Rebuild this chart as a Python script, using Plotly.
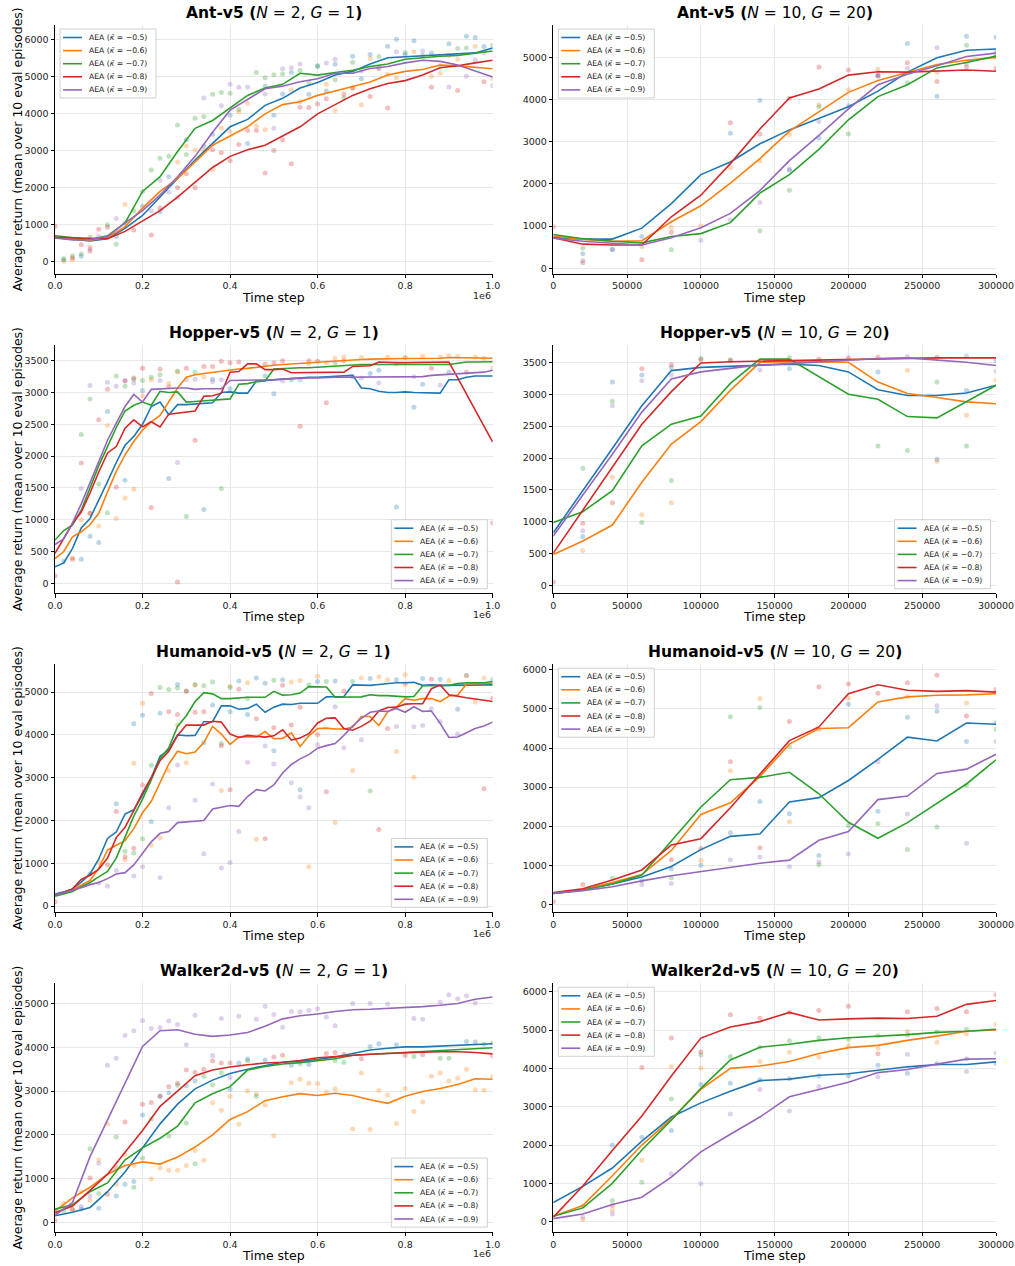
import plotly.graph_objects as go

W, H = 1015, 1266
COLORS = ["#1f77b4", "#ff7f0e", "#2ca02c", "#d62728", "#9467bd"]
KAPPAS = ["\u22120.5", "\u22120.6", "\u22120.7", "\u22120.8", "\u22120.9"]
FONT = "DejaVu Sans"

# time grids (left panels in units of 1e6 steps, right panels in raw steps)
T_L04 = [round(0.04 * i, 2) for i in range(26)]
T_L02 = [round(0.02 * i, 2) for i in range(51)]
T_R = [20000 * i for i in range(16)]

# ---------------- Ant-v5 (N=2, G=1) ----------------
ANT_L_LINES = [
    [650, 600, 560, 620, 900, 1250, 1750, 2250, 2750, 3200, 3650, 3850, 4230, 4420, 4700, 4850, 5050, 5150, 5350, 5520, 5550, 5580, 5600, 5620, 5650, 5780],
    [650, 620, 580, 650, 950, 1450, 1900, 2250, 2700, 3150, 3400, 3650, 4000, 4250, 4330, 4500, 4620, 4750, 4860, 5050, 5150, 5200, 5320, 5300, 5250, 5220],
    [700, 640, 600, 700, 1050, 1900, 2300, 2980, 3610, 3820, 4150, 4500, 4700, 4800, 5100, 5050, 5120, 5180, 5280, 5350, 5480, 5530, 5560, 5580, 5630, 5700],
    [660, 650, 620, 620, 820, 1100, 1380, 1750, 2150, 2550, 2850, 3030, 3150, 3400, 3650, 4000, 4250, 4500, 4680, 4820, 4900, 5050, 5250, 5300, 5380, 5450],
    [640, 590, 600, 680, 1050, 1380, 1800, 2300, 2850, 3500, 4100, 4400, 4680, 4750, 4870, 4950, 5100, 5100, 5230, 5280, 5380, 5450, 5420, 5320, 5150, 5000],
]
ANT_L_DOTS = [
    [(0.02, 50), (0.06, 150), (0.14, 680), (0.2, 1500), (0.24, 1350), (0.26, 2300), (0.3, 3300), (0.34, 3130), (0.36, 3450), (0.4, 3960), (0.44, 3200), (0.48, 4750), (0.5, 3960), (0.52, 4540), (0.54, 5120), (0.58, 4530), (0.6, 5300), (0.62, 4620), (0.64, 5340), (0.68, 5560), (0.7, 4950), (0.72, 5610), (0.76, 5830), (0.78, 6020), (0.8, 5600), (0.82, 5980), (0.86, 5650), (0.9, 5900), (0.94, 6100), (0.96, 6070), (0.98, 5820)],
    [(0.02, 10), (0.04, 50), (0.08, 400), (0.16, 1550), (0.28, 2700), (0.3, 3130), (0.32, 3020), (0.34, 3020), (0.36, 2490), (0.38, 3620), (0.4, 3520), (0.42, 4060), (0.44, 4290), (0.46, 3670), (0.48, 3570), (0.54, 4650), (0.56, 4330), (0.62, 4800), (0.64, 4090), (0.68, 4690), (0.7, 4250), (0.72, 5500), (0.76, 5070), (0.78, 4980), (0.82, 5680), (0.86, 5020), (0.88, 5100), (0.9, 5580), (0.92, 5480), (0.96, 5830), (1.0, 4960)],
    [(0.02, 80), (0.04, 160), (0.06, 210), (0.08, 660), (0.12, 1000), (0.14, 470), (0.16, 1050), (0.18, 1380), (0.2, 1900), (0.22, 2480), (0.24, 2800), (0.26, 2850), (0.28, 3700), (0.3, 2900), (0.32, 3880), (0.34, 3930), (0.36, 4530), (0.38, 4580), (0.4, 4560), (0.42, 4120), (0.46, 5120), (0.48, 4980), (0.5, 5060), (0.52, 5080), (0.56, 5180), (0.58, 4850), (0.6, 5280), (0.64, 4920), (0.66, 4430), (0.68, 5400), (0.74, 5550), (0.8, 5660), (0.84, 5580), (0.92, 5770), (0.94, 5780), (1.0, 5860)],
    [(0.0, 960), (0.04, 100), (0.06, 460), (0.08, 290), (0.1, 880), (0.12, 930), (0.18, 860), (0.22, 720), (0.24, 1450), (0.28, 2000), (0.3, 2380), (0.32, 2000), (0.36, 3030), (0.38, 2950), (0.4, 2740), (0.42, 3170), (0.44, 3550), (0.46, 3550), (0.48, 2400), (0.5, 3010), (0.52, 3290), (0.54, 2650), (0.56, 4180), (0.58, 4170), (0.6, 4270), (0.62, 4410), (0.66, 4530), (0.68, 4710), (0.72, 4470), (0.74, 5220), (0.76, 4160), (0.86, 4720), (0.92, 4630), (0.98, 4870)],
    [(0.08, 340), (0.1, 680), (0.14, 1170), (0.22, 1370), (0.24, 2200), (0.26, 1880), (0.28, 1740), (0.34, 4430), (0.38, 4220), (0.4, 4800), (0.42, 4720), (0.44, 4730), (0.48, 4540), (0.5, 3610), (0.52, 5220), (0.54, 5250), (0.56, 5350), (0.62, 5380), (0.64, 5480), (0.7, 5160), (0.74, 5270), (0.78, 5680), (0.84, 5700), (0.88, 5300), (0.9, 4730), (0.94, 5020), (0.96, 5460), (0.98, 5660), (1.0, 4760)],
]

# ---------------- Ant-v5 (N=10, G=20) ----------------
ANT_R_LINES = [
    [730, 690, 690, 950, 1530, 2220, 2520, 2950, 3280, 3560, 3830, 4200, 4650, 4990, 5170, 5200],
    [760, 680, 640, 650, 1100, 1480, 2020, 2600, 3250, 3700, 4170, 4450, 4640, 4830, 4930, 5000],
    [800, 700, 640, 600, 750, 820, 1080, 1780, 2220, 2820, 3520, 4070, 4350, 4750, 4880, 5030],
    [720, 570, 550, 550, 1220, 1730, 2480, 3300, 4040, 4250, 4580, 4660, 4650, 4670, 4700, 4670],
    [710, 640, 590, 550, 720, 960, 1300, 1840, 2550, 3150, 3780, 4350, 4600, 4800, 5020, 5100],
]
ANT_R_DOTS = [
    [(20000, 340), (40000, 440), (60000, 750), (120000, 3200), (140000, 3980), (160000, 2320), (180000, 3090), (200000, 3850), (220000, 4580), (240000, 5330), (260000, 4080), (280000, 5500), (300000, 5480)],
    [(60000, 510), (80000, 970), (100000, 1000), (120000, 2380), (140000, 2540), (160000, 3170), (180000, 3870), (200000, 4230), (220000, 4720), (260000, 4640), (300000, 5000)],
    [(20000, 480), (80000, 440), (140000, 890), (160000, 1850), (180000, 3830), (200000, 3180), (240000, 4400), (280000, 5290), (300000, 5030)],
    [(0, 980), (20000, 130), (60000, 200), (80000, 850), (120000, 3450), (140000, 3180), (160000, 4030), (180000, 4770), (200000, 4700), (220000, 4560), (240000, 4870), (260000, 4430), (280000, 4770), (300000, 4740)],
    [(20000, 180), (40000, 450), (100000, 660), (120000, 1150), (140000, 1560), (160000, 2350), (180000, 3480), (220000, 4560), (240000, 4740), (260000, 5230), (280000, 4850), (300000, 5160)],
]

# ---------------- Hopper-v5 (N=2, G=1) ----------------
HOP_L_LINES = [
    [260, 320, 550, 870, 1020, 1300, 1600, 1900, 2170, 2310, 2500, 2780, 2850, 2650, 2810, 2810, 2820, 2830, 2840, 3000, 3010, 2990, 2990, 3180, 3190, 3200, 3210, 3230, 3230, 3240, 3240, 3250, 3260, 3270, 3270, 3070, 3060, 3020, 3000, 3000, 3010, 3000, 3000, 3000, 2990, 3200, 3200, 3240, 3260, 3260, 3260],
    [390, 500, 730, 810, 920, 1100, 1440, 1760, 2020, 2230, 2410, 2540, 2640, 2860, 3070, 3240, 3280, 3300, 3320, 3340, 3360, 3370, 3380, 3400, 3410, 3430, 3440, 3450, 3460, 3470, 3480, 3490, 3500, 3510, 3515, 3520, 3525, 3530, 3535, 3535, 3535, 3535, 3535, 3540, 3540, 3550, 3550, 3545, 3540, 3540, 3540],
    [680, 830, 920, 1150, 1500, 1850, 2150, 2450, 2710, 2800, 2850, 2800, 3020, 3000, 3010, 2850, 2860, 2870, 2880, 2890, 2900, 3130, 3140, 3170, 3180, 3370, 3380, 3380, 3390, 3390, 3400, 3400, 3410, 3430, 3440, 3440, 3440, 3440, 3440, 3440, 3440, 3440, 3440, 3440, 3440, 3440, 3460, 3480, 3480, 3485, 3485],
    [470, 700, 940, 1120, 1420, 1750, 2050, 2150, 2440, 2570, 2460, 2540, 2460, 2660, 2680, 2700, 2710, 2940, 2950, 2990, 3320, 3330, 3450, 3450, 3360, 3360, 3370, 3310, 3310, 3310, 3310, 3310, 3310, 3320, 3410, 3410, 3420, 3480, 3470, 3470, 3470, 3470, 3470, 3470, 3480, 3480, 3230, 2970, 2720, 2470, 2220],
    [610, 700, 950, 1250, 1580, 1920, 2250, 2520, 2780, 2970, 2850, 3050, 3060, 3060, 3070, 3070, 3050, 3060, 3060, 3060, 3190, 3190, 3190, 3190, 3190, 3200, 3210, 3220, 3220, 3230, 3230, 3240, 3240, 3240, 3240, 3240, 3240, 3240, 3250, 3250, 3240, 3240, 3250, 3270, 3280, 3280, 3290, 3300, 3310, 3320, 3350],
]
HOP_L_DOTS = [
    [(0.02, 350), (0.06, 380), (0.08, 740), (0.1, 640), (0.12, 2700), (0.16, 1620), (0.2, 3030), (0.26, 1650), (0.34, 1160), (0.36, 3210), (0.4, 3060), (0.48, 3260), (0.5, 2980), (0.68, 3250), (0.72, 3300), (0.74, 3350), (0.78, 1200), (0.82, 2770), (0.84, 3130), (0.9, 3320)],
    [(0.04, 400), (0.06, 1000), (0.08, 1100), (0.1, 900), (0.12, 2480), (0.14, 1020), (0.16, 1340), (0.18, 1480), (0.2, 2950), (0.22, 3200), (0.26, 3140), (0.28, 3320), (0.34, 3250), (0.58, 3450), (0.62, 3470), (0.64, 3540), (0.66, 3560), (0.7, 3550), (0.76, 3560), (0.78, 3450), (0.84, 3570), (0.88, 3560), (0.9, 3580), (0.92, 3570), (0.96, 3560), (0.98, 3540)],
    [(0.06, 2340), (0.08, 2900), (0.1, 1560), (0.12, 1110), (0.14, 3260), (0.16, 3100), (0.18, 3210), (0.2, 3190), (0.22, 3240), (0.24, 3280), (0.28, 3340), (0.3, 1050), (0.32, 3320), (0.38, 1490), (0.54, 3200), (0.64, 3470)],
    [(0.0, 120), (0.04, 380), (0.06, 1890), (0.08, 1100), (0.1, 2570), (0.12, 3050), (0.14, 1510), (0.16, 3180), (0.18, 3230), (0.2, 3380), (0.22, 1190), (0.24, 3370), (0.26, 3090), (0.28, 20), (0.3, 3380), (0.32, 2250), (0.34, 3410), (0.36, 3410), (0.38, 3490), (0.4, 3470), (0.42, 3480), (0.48, 3450), (0.5, 3470), (0.52, 3500), (0.56, 2470), (0.58, 3500), (0.6, 3490), (0.62, 2840), (0.66, 3500), (0.8, 3550), (0.86, 3380), (0.94, 3320), (1.0, 950)],
    [(0.06, 1490), (0.08, 3110), (0.12, 3160), (0.14, 3100), (0.16, 3190), (0.18, 3150), (0.24, 3190), (0.28, 1900), (0.3, 3200), (0.32, 3210), (0.36, 3170), (0.38, 3200), (0.52, 3180), (0.56, 3200), (0.7, 3230), (0.74, 3150), (0.82, 3250), (0.88, 3120), (1.0, 3380)],
]

# ---------------- Hopper-v5 (N=10, G=20) ----------------
HOP_R_LINES = [
    [830, 1480, 2150, 2820, 3370, 3420, 3440, 3460, 3470, 3450, 3350, 3070, 2980, 2980, 3020, 3140],
    [490, 700, 950, 1620, 2220, 2570, 3060, 3500, 3510, 3510, 3500, 3190, 3010, 2950, 2880, 2850],
    [990, 1160, 1490, 2190, 2530, 2660, 3170, 3550, 3550, 3280, 3000, 2920, 2650, 2630, 2880, 3140],
    [510, 1180, 1850, 2530, 3040, 3490, 3510, 3520, 3530, 3540, 3550, 3560, 3570, 3570, 3570, 3570],
    [780, 1410, 2060, 2720, 3240, 3350, 3410, 3460, 3480, 3510, 3540, 3560, 3570, 3540, 3500, 3450],
]
HOP_R_DOTS = [
    [(20000, 770), (40000, 3190), (60000, 3300), (80000, 3420), (160000, 3400), (220000, 3350), (260000, 1980), (280000, 3060), (300000, 3530)],
    [(20000, 550), (40000, 1700), (60000, 1110), (80000, 1300), (140000, 3500), (240000, 3370), (260000, 1950), (280000, 2670), (300000, 3220)],
    [(20000, 1840), (40000, 2890), (60000, 990), (80000, 1650), (100000, 3560), (120000, 3540), (160000, 3570), (220000, 2190), (240000, 2120), (260000, 3190), (280000, 2190)],
    [(0, 60), (20000, 980), (40000, 1300), (60000, 3400), (80000, 3460), (100000, 3540), (120000, 3530), (180000, 3550), (200000, 3570), (220000, 3580), (260000, 3580)],
    [(20000, 860), (40000, 2820), (60000, 3210), (80000, 3300), (140000, 3380), (240000, 3590), (280000, 3600), (300000, 3360)],
]

# ---------------- Humanoid-v5 (N=2, G=1) ----------------
HUM_L_LINES = [
    [280, 330, 400, 560, 750, 1100, 1580, 1730, 2150, 2250, 2600, 3000, 3500, 3650, 4000, 3980, 3990, 4310, 4310, 4680, 4680, 4600, 4620, 4720, 4530, 4650, 4720, 4710, 4740, 4740, 4740, 4890, 4900, 4900, 5170, 5170, 5160, 5180, 5200, 5220, 5220, 5230, 5160, 5170, 5160, 5160, 5170, 5170, 5170, 5170, 5170],
    [250, 300, 380, 500, 600, 880, 1310, 1420, 1530, 1810, 2180, 2450, 2900, 3320, 3620, 3560, 3600, 3820, 4200, 4020, 3780, 3950, 3960, 3950, 4080, 3910, 3920, 4050, 3730, 3980, 4150, 4160, 4140, 4140, 4180, 4430, 4430, 4220, 4540, 4650, 4850, 4810, 4850, 4850, 4780, 4910, 4930, 5190, 5200, 5200, 5210],
    [230, 280, 340, 450, 550, 680, 810, 1120, 1600, 2100, 2500, 2950, 3450, 3700, 4200, 4450, 4780, 4990, 4960, 4850, 4850, 4870, 4880, 4880, 4880, 5020, 4930, 4940, 4980, 5130, 5130, 5120, 4880, 4880, 4880, 4890, 4940, 4920, 4920, 4910, 4890, 4900, 5150, 5150, 5150, 5160, 5200, 5220, 5220, 5220, 5250],
    [250, 320, 400, 620, 720, 860, 1120, 1600, 1840, 2230, 2650, 3000, 3400, 3620, 3990, 4230, 4230, 4230, 4320, 4300, 4020, 3940, 3990, 3970, 3950, 3980, 4120, 3880, 3930, 4030, 4280, 4390, 4400, 4150, 4110, 4200, 4320, 4560, 4640, 4650, 4720, 4730, 4730, 5080, 5170, 4940, 4900, 4870, 4840, 4810, 4780],
    [260, 310, 370, 430, 500, 550, 640, 750, 780, 960, 1220, 1500, 1700, 1740, 1950, 1970, 1980, 2000, 2270, 2310, 2350, 2330, 2560, 2720, 2690, 2830, 3110, 3310, 3440, 3540, 3690, 3750, 3800, 3990, 4210, 4390, 4530, 4560, 4550, 4620, 4530, 4660, 4550, 4560, 4270, 3940, 3950, 4050, 4150, 4210, 4300],
]
HUM_L_DOTS = [
    [(0.08, 750), (0.14, 2390), (0.18, 4260), (0.2, 4460), (0.22, 1970), (0.24, 4510), (0.28, 5180), (0.34, 3820), (0.36, 4700), (0.4, 4540), (0.42, 5260), (0.44, 4480), (0.46, 5330), (0.48, 5210), (0.5, 3630), (0.52, 5290), (0.56, 2720), (0.6, 5250), (0.64, 5260), (0.72, 5320), (0.78, 5290), (0.84, 5320), (0.88, 5300), (0.92, 4600), (0.94, 5390)],
    [(0.1, 1020), (0.16, 1080), (0.18, 3340), (0.2, 4740), (0.22, 1420), (0.24, 1590), (0.26, 3160), (0.28, 4240), (0.3, 3350), (0.32, 5160), (0.38, 2700), (0.4, 5140), (0.44, 5220), (0.46, 1560), (0.54, 5240), (0.56, 5270), (0.58, 920), (0.6, 5370), (0.64, 1950), (0.68, 3170), (0.7, 5330), (0.74, 5360), (0.76, 5290), (0.78, 3610), (0.8, 5410), (0.82, 3010), (0.9, 5270), (0.94, 5390), (0.96, 4770), (0.98, 5330)],
    [(0.16, 1280), (0.18, 1240), (0.2, 1570), (0.22, 3290), (0.24, 5110), (0.26, 5060), (0.28, 5100), (0.3, 5030), (0.32, 5180), (0.34, 5150), (0.36, 5240), (0.38, 3800), (0.4, 5110), (0.44, 4850), (0.5, 5280), (0.58, 5170), (0.62, 5250), (0.68, 5250), (0.72, 2690), (1.0, 5300)],
    [(0.0, 100), (0.12, 960), (0.14, 2210), (0.16, 1150), (0.18, 1350), (0.2, 2830), (0.22, 4970), (0.26, 4540), (0.28, 4480), (0.3, 5020), (0.32, 4530), (0.34, 4540), (0.38, 3750), (0.4, 2720), (0.42, 5070), (0.46, 4380), (0.48, 1570), (0.5, 4170), (0.52, 5160), (0.54, 4230), (0.56, 4650), (0.6, 4010), (0.62, 2670), (0.66, 5030), (0.74, 1790), (0.76, 4150), (0.8, 5190), (0.86, 5300), (0.98, 2740), (1.0, 4860)],
    [(0.1, 530), (0.12, 470), (0.14, 830), (0.18, 700), (0.2, 920), (0.24, 660), (0.26, 2300), (0.28, 3300), (0.32, 2470), (0.34, 1220), (0.36, 2850), (0.38, 890), (0.4, 1020), (0.42, 1740), (0.44, 3360), (0.48, 3740), (0.5, 3320), (0.54, 2880), (0.56, 2550), (0.58, 2300), (0.6, 3770), (0.64, 4660), (0.66, 3700), (0.7, 3890), (0.78, 4200), (0.82, 4190), (0.84, 4220), (0.86, 4610), (0.88, 4310), (0.92, 4030)],
]

# ---------------- Humanoid-v5 (N=10, G=20) ----------------
HUM_R_LINES = [
    [280, 380, 520, 700, 970, 1400, 1740, 1800, 2620, 2730, 3170, 3710, 4280, 4180, 4640, 4610],
    [280, 380, 560, 760, 1380, 2300, 2600, 3270, 4100, 4500, 4520, 5180, 5310, 5350, 5360, 5390],
    [280, 360, 520, 750, 1620, 2490, 3190, 3250, 3380, 2830, 2100, 1690, 2090, 2580, 3080, 3700],
    [300, 400, 620, 880, 1520, 1680, 2470, 3330, 4190, 4540, 5390, 5620, 5480, 5450, 5470, 5430],
    [280, 350, 450, 600, 730, 840, 940, 1050, 1130, 1640, 1860, 2680, 2770, 3350, 3460, 3840],
]
HUM_R_DOTS = [
    [(80000, 910), (100000, 1000), (120000, 1830), (140000, 2630), (160000, 2320), (180000, 1250), (200000, 5120), (220000, 2380), (240000, 4790), (260000, 4940), (280000, 4170), (300000, 4650)],
    [(100000, 1130), (120000, 3420), (140000, 5270), (160000, 2110), (180000, 4470), (200000, 5280), (240000, 5320), (280000, 5150)],
    [(40000, 670), (60000, 600), (80000, 680), (120000, 4800), (140000, 5040), (160000, 4040), (180000, 1010), (200000, 2010), (220000, 2060), (240000, 1400), (260000, 1980), (280000, 3050), (300000, 4480)],
    [(0, 70), (20000, 510), (80000, 1140), (100000, 1430), (120000, 3650), (140000, 1450), (160000, 4680), (180000, 5560), (200000, 5640), (220000, 5400), (240000, 5670), (260000, 5860), (280000, 4820), (300000, 5500)],
    [(60000, 500), (80000, 530), (120000, 1140), (140000, 1210), (160000, 960), (180000, 1080), (200000, 1290), (220000, 3650), (240000, 2310), (260000, 5080), (280000, 1560), (300000, 4170)],
]

# ---------------- Walker2d-v5 (N=2, G=1) ----------------
WAL_L_LINES = [
    [150, 230, 340, 700, 1150, 1700, 2250, 2700, 3050, 3250, 3400, 3500, 3580, 3660, 3680, 3720, 3780, 3860, 3940, 3980, 4010, 4010, 4030, 4040, 4060, 4080],
    [260, 560, 800, 1100, 1300, 1380, 1330, 1490, 1720, 2000, 2350, 2530, 2780, 2870, 2940, 2900, 2950, 2900, 2800, 2720, 2880, 2990, 3060, 3150, 3280, 3270],
    [300, 400, 700, 900, 1430, 1700, 1920, 2200, 2730, 2940, 3100, 3480, 3560, 3620, 3650, 3700, 3740, 3820, 3840, 3870, 3890, 3900, 3920, 3940, 3960, 3990],
    [220, 370, 730, 1100, 1600, 2100, 2650, 3000, 3350, 3480, 3550, 3600, 3640, 3660, 3700, 3760, 3790, 3820, 3840, 3860, 3880, 3890, 3900, 3900, 3880, 3850],
    [160, 450, 1500, 2350, 3200, 4020, 4380, 4400, 4300, 4250, 4280, 4340, 4480, 4650, 4720, 4760, 4820, 4860, 4870, 4890, 4900, 4930, 4960, 5000, 5100, 5150],
]
WAL_L_DOTS = [
    [(0.06, 300), (0.1, 320), (0.14, 600), (0.16, 870), (0.18, 930), (0.2, 2450), (0.24, 2880), (0.26, 2960), (0.3, 3120), (0.32, 3230), (0.4, 3040), (0.42, 3640), (0.44, 3730), (0.48, 3710), (0.54, 3590), (0.58, 3610), (0.72, 4020), (0.74, 4080), (0.78, 4060), (0.94, 4130), (0.96, 4120), (1.0, 4100)],
    [(0.02, 430), (0.04, 290), (0.06, 700), (0.08, 500), (0.1, 1430), (0.12, 2250), (0.14, 870), (0.16, 1550), (0.18, 1300), (0.22, 990), (0.24, 1240), (0.26, 1190), (0.28, 1190), (0.3, 1300), (0.32, 1640), (0.34, 1420), (0.36, 2730), (0.38, 2560), (0.4, 2880), (0.42, 2240), (0.44, 3000), (0.46, 2930), (0.48, 2680), (0.5, 1980), (0.54, 3190), (0.56, 3270), (0.58, 3180), (0.6, 3170), (0.62, 2980), (0.64, 3050), (0.68, 2130), (0.7, 3410), (0.72, 2120), (0.74, 3010), (0.76, 2910), (0.78, 2260), (0.8, 3060), (0.82, 2530), (0.84, 2750), (0.86, 3340), (0.88, 3410), (0.9, 3230), (0.92, 3300), (0.94, 3500), (0.96, 3030), (0.98, 3020), (1.0, 3330)],
    [(0.02, 260), (0.08, 1680), (0.1, 660), (0.14, 1950), (0.18, 800), (0.2, 1470), (0.22, 2360), (0.26, 1970), (0.28, 3130), (0.3, 2270), (0.32, 1340), (0.34, 3340), (0.36, 3140), (0.38, 3420), (0.44, 3690), (0.46, 2880), (0.56, 3620), (0.64, 3690), (0.66, 3660), (0.82, 3790), (0.88, 3750), (0.9, 3750), (0.98, 4070)],
    [(0.0, 40), (0.04, 300), (0.08, 1010), (0.12, 640), (0.14, 1250), (0.16, 2290), (0.2, 2700), (0.22, 2740), (0.24, 2880), (0.26, 3100), (0.28, 3180), (0.3, 3480), (0.32, 3430), (0.34, 3500), (0.36, 3690), (0.38, 3640), (0.4, 3640), (0.5, 3780), (0.52, 3820), (0.62, 3860), (0.64, 3880), (0.66, 3840), (0.7, 3740), (0.8, 3810), (0.84, 3830), (1.0, 3800)],
    [(0.06, 360), (0.08, 600), (0.1, 1350), (0.12, 3590), (0.14, 3750), (0.16, 4270), (0.18, 4380), (0.2, 4610), (0.22, 4430), (0.24, 4450), (0.26, 4600), (0.28, 4520), (0.3, 4060), (0.32, 4730), (0.36, 3810), (0.38, 4660), (0.4, 3310), (0.42, 4710), (0.46, 4640), (0.48, 4940), (0.5, 4750), (0.52, 4460), (0.54, 4820), (0.56, 4810), (0.58, 4840), (0.6, 4880), (0.62, 4690), (0.64, 4490), (0.68, 5000), (0.72, 5000), (0.76, 4990), (0.82, 4660), (0.84, 4640), (0.88, 5030), (0.9, 5200), (0.92, 5110), (0.94, 5180), (0.96, 5010)],
]

# ---------------- Walker2d-v5 (N=10, G=20) ----------------
WAL_R_LINES = [
    [500, 920, 1400, 2100, 2730, 3100, 3400, 3680, 3720, 3820, 3860, 3950, 4040, 4100, 4100, 4170],
    [140, 420, 1200, 2000, 2680, 3450, 4000, 4060, 4180, 4390, 4540, 4600, 4730, 4840, 4970, 5000],
    [140, 360, 1000, 1870, 2650, 3480, 4220, 4550, 4630, 4730, 4800, 4840, 4880, 4940, 4970, 5020],
    [120, 930, 1860, 2760, 3800, 4790, 5080, 5220, 5460, 5260, 5290, 5310, 5300, 5360, 5670, 5770],
    [80, 200, 450, 640, 1160, 1820, 2280, 2730, 3260, 3460, 3640, 3890, 3970, 4110, 4240, 4250],
]
WAL_R_DOTS = [
    [(40000, 2000), (60000, 2200), (80000, 2380), (100000, 3580), (120000, 3610), (140000, 3700), (160000, 3730), (180000, 3800), (200000, 3810), (220000, 4080), (240000, 3870), (260000, 4120), (280000, 4250), (300000, 4130)],
    [(20000, 60), (40000, 300), (60000, 1600), (80000, 4040), (100000, 4010), (140000, 4180), (160000, 4420), (180000, 4290), (200000, 4590), (220000, 4530), (240000, 4960), (260000, 4680), (280000, 4900), (300000, 5150)],
    [(20000, 400), (40000, 550), (60000, 1030), (80000, 3200), (100000, 4350), (120000, 4310), (140000, 4550), (160000, 4720), (180000, 4800), (200000, 4760), (220000, 4850), (240000, 4870), (260000, 4950), (280000, 5030)],
    [(40000, 420), (60000, 4020), (80000, 4790), (100000, 4430), (120000, 5400), (140000, 5310), (160000, 5460), (180000, 5510), (200000, 5620), (220000, 4380), (240000, 5480), (260000, 5560), (280000, 5480), (300000, 5920)],
    [(20000, 120), (40000, 200), (80000, 1250), (100000, 990), (120000, 2810), (140000, 3450), (160000, 2890), (180000, 3530), (220000, 3780), (240000, 4370), (280000, 3920), (300000, 4400)],
]

PANELS = [
    ("Ant-v5", 2, 1, 0, 0, T_L04, ANT_L_LINES, ANT_L_DOTS, (-320, 6405), 1000, "ul"),
    ("Ant-v5", 10, 20, 0, 1, T_R, ANT_R_LINES, ANT_R_DOTS, (-126, 5768), 1000, "ul"),
    ("Hopper-v5", 2, 1, 1, 0, T_L02, HOP_L_LINES, HOP_L_DOTS, (-157, 3752), 500, "lr"),
    ("Hopper-v5", 10, 20, 1, 1, T_R, HOP_R_LINES, HOP_R_DOTS, (-119, 3776), 500, "lr"),
    ("Humanoid-v5", 2, 1, 2, 0, T_L02, HUM_L_LINES, HUM_L_DOTS, (-140, 5654), 1000, "lr"),
    ("Humanoid-v5", 10, 20, 2, 1, T_R, HUM_R_LINES, HUM_R_DOTS, (-197, 6146), 1000, "ul"),
    ("Walker2d-v5", 2, 1, 3, 0, T_L04, WAL_L_LINES, WAL_L_DOTS, (-215, 5463), 1000, "lr"),
    ("Walker2d-v5", 10, 20, 3, 1, T_R, WAL_R_LINES, WAL_R_DOTS, (-261, 6219), 1000, "ul"),
]

ROW_PX = [(25, 273.5), (344.7, 593.3), (664.2, 912), (983.3, 1231.7)]
COL_PX = [(55, 492.7), (553.3, 996)]


def px(x):
    return x / W


def py(y):
    return 1 - y / H


fig = go.Figure()
shapes = []
annotations = []
layout_axes = {}

for i, (env, n, g, row, col, tx, lines, dots, yr, dt, legpos) in enumerate(PANELS, start=1):
    xa = "x" if i == 1 else f"x{i}"
    ya = "y" if i == 1 else f"y{i}"
    x0, x1 = COL_PX[col]
    y0, y1 = ROW_PX[row]
    left = col == 0

    for k in range(5):
        fig.add_trace(go.Scatter(
            x=[d[0] for d in dots[k]], y=[d[1] for d in dots[k]], mode="markers",
            marker=dict(color=COLORS[k], size=5, opacity=0.3, line=dict(width=0)),
            xaxis=xa, yaxis=ya, showlegend=False, hoverinfo="skip"))
    for k in range(5):
        fig.add_trace(go.Scatter(
            x=tx, y=lines[k], mode="lines", line=dict(color=COLORS[k], width=1.6),
            xaxis=xa, yaxis=ya, showlegend=False,
            name=f"AEA (\u03ba\u0304 = {KAPPAS[k]})"))

    if left:
        tickvals = [0, 0.2, 0.4, 0.6, 0.8, 1.0]
        ticktext = ["0.0", "0.2", "0.4", "0.6", "0.8", "1.0"]
        xrange = [0, 1]
    else:
        tickvals = [0, 50000, 100000, 150000, 200000, 250000, 300000]
        ticktext = [str(v) for v in tickvals]
        xrange = [0, 300000]

    common = dict(showline=True, linecolor="#000", linewidth=1, ticks="outside", ticklen=3.5,
                  tickwidth=1, tickcolor="#000", showgrid=True, gridcolor="#e8e8e8", gridwidth=1,
                  zeroline=False, automargin=False,
                  tickfont=dict(family=FONT, size=9.5, color="#222"))
    key = "" if i == 1 else str(i)
    layout_axes["xaxis" + key] = dict(domain=[px(x0), px(x1)], range=xrange, anchor=ya,
                                      tickvals=tickvals, ticktext=ticktext, **common)
    layout_axes["yaxis" + key] = dict(domain=[py(y1), py(y0)], range=list(yr), anchor=xa,
                                      dtick=dt, tick0=0, **common)

    cx = (x0 + x1) / 2
    annotations.append(dict(x=px(cx), y=py(y0 - 12), xref="paper", yref="paper", showarrow=False,
                            xanchor="center", yanchor="middle",
                            text=f"<b>{env} (</b><i>N</i> = {n}, <i>G</i> = {g}<b>)</b>",
                            font=dict(family=FONT, size=15.5, color="#000")))
    annotations.append(dict(x=px(cx), y=py(y1 + 23.5), xref="paper", yref="paper", showarrow=False,
                            xanchor="center", yanchor="middle", text="Time step",
                            font=dict(family=FONT, size=12.5, color="#000")))
    if left:
        annotations.append(dict(x=px(17), y=py((y0 + y1) / 2), xref="paper", yref="paper",
                                showarrow=False, xanchor="center", yanchor="middle", textangle=-90,
                                text="Average return (mean over 10 eval episodes)",
                                font=dict(family=FONT, size=12.5, color="#000")))
        annotations.append(dict(x=px(x1), y=py(y1 + 21.5), xref="paper", yref="paper",
                                showarrow=False, xanchor="right", yanchor="middle", text="1e6",
                                font=dict(family=FONT, size=9.5, color="#222")))

    # legend box
    lw, lh = 96, 69
    if legpos == "ul":
        bx, by = x0 + 5, y0 + 4
    else:
        bx, by = x1 - 5.4 - lw, y1 - 4.6 - lh
    shapes.append(dict(type="rect", xref="paper", yref="paper", x0=px(bx), x1=px(bx + lw),
                       y0=py(by + lh), y1=py(by), fillcolor="rgba(255,255,255,0.85)",
                       line=dict(color="#d0d0d0", width=1), layer="above"))
    for k in range(5):
        ey = by + 8.5 + 13.1 * k
        shapes.append(dict(type="line", xref="paper", yref="paper", x0=px(bx + 3), x1=px(bx + 22),
                           y0=py(ey), y1=py(ey), line=dict(color=COLORS[k], width=1.6),
                           layer="above"))
        annotations.append(dict(x=px(bx + 27), y=py(ey), xref="paper", yref="paper",
                                showarrow=False, xanchor="left", yanchor="middle",
                                text=f"AEA (<i>\u03ba\u0304</i> = {KAPPAS[k]})",
                                font=dict(family=FONT, size=7.7, color="#222")))

fig.update_layout(
    width=W, height=H, margin=dict(l=0, r=0, t=0, b=0, autoexpand=False),
    paper_bgcolor="white", plot_bgcolor="white", showlegend=False,
    shapes=shapes, annotations=annotations, **layout_axes)

fig.write_html("out.html")
